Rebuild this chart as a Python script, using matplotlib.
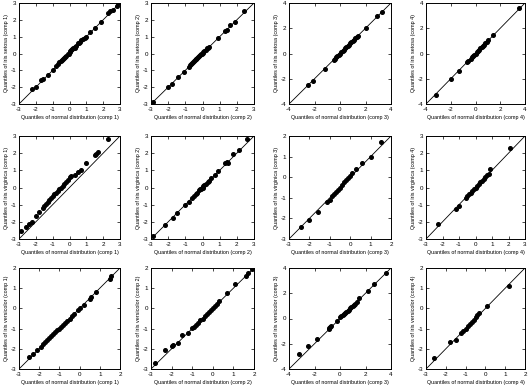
import matplotlib
matplotlib.use("Agg")
import matplotlib.pyplot as plt
import numpy as np

# Q-Q points (x = normal quantile, y = sample quantile)
setosa_comp1_x = [-2.2, -2.0, -1.7, -1.6, -1.3, -1.0, -0.8, -0.7, -0.6, -0.5, -0.45, -0.4, -0.3, -0.25, -0.2,
                  -0.1, -0.05, 0.0, 0.05, 0.1, 0.15, 0.2, 0.3, 0.35, 0.4, 0.5, 0.55, 0.6, 0.7, 0.8,
                  0.9, 1.0, 1.2, 1.5, 1.9, 2.3, 2.4, 2.6, 2.8, 2.9]
setosa_comp1_y = [-2.1, -2.0, -1.6, -1.5, -1.3, -1.0, -0.75, -0.65, -0.5, -0.45, -0.4, -0.35, -0.25, -0.2, -0.15,
                  -0.05, 0.0, 0.1, 0.15, 0.2, 0.25, 0.3, 0.35, 0.4, 0.45, 0.6, 0.65, 0.7, 0.8, 0.85,
                  0.9, 1.0, 1.3, 1.5, 1.9, 2.4, 2.5, 2.6, 2.8, 3.0]
setosa_comp2_x = [-2.9, -2.0, -1.8, -1.4, -1.1, -0.8, -0.7, -0.65, -0.6, -0.55, -0.5, -0.45, -0.4, -0.35, -0.3,
                  -0.25, -0.2, -0.15, -0.1, -0.05, 0.0, 0.05, 0.1, 0.2, 0.25, 0.3, 0.35, 0.9, 1.3, 1.4,
                  1.6, 1.9, 2.4]
setosa_comp2_y = [-2.9, -2.0, -1.8, -1.4, -1.1, -0.8, -0.7, -0.6, -0.55, -0.5, -0.45, -0.4, -0.35, -0.3, -0.25,
                  -0.2, -0.15, -0.1, -0.05, 0.0, 0.05, 0.1, 0.15, 0.2, 0.3, 0.35, 0.4, 0.9, 1.35, 1.4,
                  1.7, 1.9, 2.5]
setosa_comp3_x = [-2.5, -2.1, -1.2, -0.45, -0.4, -0.3, -0.2, -0.1, 0.0, 0.1, 0.2, 0.3, 0.4, 0.5, 0.6,
                  0.7, 0.8, 0.9, 1.0, 1.1, 1.2, 1.3, 1.4, 2.0, 2.9, 3.3]
setosa_comp3_y = [-2.5, -2.2, -1.2, -0.5, -0.4, -0.3, -0.2, -0.1, 0.0, 0.1, 0.2, 0.3, 0.4, 0.5, 0.6,
                  0.7, 0.8, 0.9, 1.0, 1.1, 1.2, 1.3, 1.4, 2.0, 3.0, 3.3]
setosa_comp4_x = [-3.2, -2.0, -1.3, -0.7, -0.6, -0.4, -0.3, -0.2, -0.1, 0.0, 0.1, 0.2, 0.3, 0.4, 0.5,
                  0.6, 0.7, 0.8, 0.9, 1.0, 1.4, 3.5]
setosa_comp4_y = [-3.3, -2.0, -1.35, -0.7, -0.6, -0.4, -0.3, -0.2, -0.1, 0.0, 0.1, 0.2, 0.3, 0.4, 0.5,
                  0.6, 0.7, 0.8, 0.9, 1.05, 1.5, 3.6]

virginica_comp1_x = [-2.9, -2.6, -2.4, -2.2, -2.0, -1.8, -1.6, -1.5, -1.4, -1.3, -1.2, -1.1, -1.0, -0.9, -0.8,
                     -0.7, -0.6, -0.5, -0.4, -0.3, -0.2, -0.1, 0.0, 0.1, 0.3, 0.5, 0.7, 1.0, 1.5, 1.6,
                     1.7, 2.3]
virginica_comp1_y = [-2.55, -2.3, -2.1, -2.0, -1.65, -1.4, -1.2, -1.1, -0.95, -0.85, -0.7, -0.6, -0.5, -0.4, -0.3,
                     -0.2, -0.1, 0.0, 0.1, 0.2, 0.3, 0.45, 0.6, 0.65, 0.75, 0.9, 1.0, 1.45, 1.9, 1.95,
                     2.05, 2.85]
virginica_comp2_x = [-2.9, -2.2, -1.7, -1.5, -1.0, -0.8, -0.6, -0.5, -0.4, -0.3, -0.2, -0.15, -0.1, -0.05, 0.0,
                     0.05, 0.1, 0.2, 0.3, 0.4, 0.5, 0.7, 0.9, 1.3, 1.45, 1.5, 1.8, 2.1, 2.6]
virginica_comp2_y = [-2.8, -2.2, -1.75, -1.5, -1.0, -0.85, -0.6, -0.5, -0.4, -0.3, -0.15, -0.1, -0.1, 0.0, 0.0,
                     0.1, 0.15, 0.2, 0.3, 0.4, 0.55, 0.7, 0.95, 1.4, 1.5, 1.4, 1.95, 2.2, 2.8]
virginica_comp3_x = [-2.4, -2.0, -1.6, -1.15, -1.0, -0.9, -0.8, -0.7, -0.6, -0.5, -0.4, -0.3, -0.2, -0.1, 0.0,
                     0.1, 0.3, 0.6, 1.0, 1.5]
virginica_comp3_y = [-2.4, -2.1, -1.7, -1.2, -1.1, -0.9, -0.8, -0.7, -0.6, -0.5, -0.4, -0.25, -0.15, -0.05, 0.05,
                     0.2, 0.4, 0.7, 1.0, 1.7]
virginica_comp4_x = [-2.3, -1.2, -1.0, -0.6, -0.5, -0.4, -0.3, -0.2, -0.1, 0.0, 0.1, 0.2, 0.3, 0.4, 0.5,
                     0.6, 0.7, 0.8, 0.9, 2.1]
virginica_comp4_y = [-2.15, -1.25, -1.05, -0.6, -0.5, -0.4, -0.3, -0.2, -0.1, 0.0, 0.1, 0.2, 0.3, 0.4, 0.5,
                     0.6, 0.7, 0.8, 1.05, 2.3]

versicolor_comp1_x = [-2.5, -2.3, -2.1, -1.9, -1.8, -1.7, -1.6, -1.5, -1.4, -1.3, -1.2, -1.1, -1.0, -0.9, -0.8,
                      -0.7, -0.6, -0.5, -0.4, -0.3, -0.1, 0.0, 0.2, 0.5, 0.55, 0.8, 1.5, 1.55]
versicolor_comp1_y = [-2.4, -2.25, -2.05, -1.9, -1.75, -1.65, -1.55, -1.45, -1.35, -1.25, -1.15, -1.05, -1.0, -0.9, -0.8,
                      -0.7, -0.6, -0.5, -0.4, -0.3, -0.1, 0.0, 0.15, 0.45, 0.55, 0.8, 1.45, 1.6]
versicolor_comp2_x = [-2.8, -2.3, -2.0, -1.95, -1.7, -1.5, -1.2, -1.0, -0.9, -0.8, -0.7, -0.6, -0.5, -0.4, -0.3,
                      -0.2, -0.1, 0.0, 0.1, 0.2, 0.3, 0.7, 1.1, 1.6, 1.7, 1.9]
versicolor_comp2_y = [-2.7, -2.05, -1.85, -1.8, -1.7, -1.3, -1.2, -0.95, -0.9, -0.8, -0.7, -0.55, -0.5, -0.4, -0.3,
                      -0.2, -0.1, 0.0, 0.1, 0.2, 0.35, 0.75, 1.2, 1.6, 1.75, 1.95]
versicolor_comp3_x = [-3.2, -2.5, -1.8, -0.9, -0.85, -0.8, -0.7, -0.2, 0.0, 0.1, 0.2, 0.3, 0.4, 0.5, 0.6,
                      0.7, 0.8, 0.9, 1.0, 1.1, 1.2, 1.3, 1.5, 2.2, 2.7, 3.6]
versicolor_comp3_y = [-2.8, -2.2, -1.6, -0.85, -0.75, -0.7, -0.6, -0.2, 0.1, 0.2, 0.3, 0.35, 0.45, 0.5, 0.6,
                      0.7, 0.8, 0.9, 1.0, 1.05, 1.15, 1.3, 1.6, 2.2, 2.7, 3.6]
versicolor_comp4_x = [-2.6, -1.8, -1.5, -1.25, -1.15, -1.0, -0.9, -0.8, -0.7, -0.6, -0.5, -0.4, -0.3, 0.1, 1.2]
versicolor_comp4_y = [-2.45, -1.65, -1.55, -1.2, -1.1, -1.0, -0.85, -0.75, -0.65, -0.55, -0.45, -0.35, -0.25, 0.1, 1.1]

species = ["setosa", "virginica", "versicolor"]
limits = [[(-3, 3), (-3, 3), (-4, 4), (-4, 4)],
          [(-3, 3), (-3, 3), (-3, 2), (-3, 3)],
          [(-3, 2), (-3, 2), (-4, 4), (-3, 2)]]

points = [
    [(setosa_comp1_x, setosa_comp1_y), (setosa_comp2_x, setosa_comp2_y),
     (setosa_comp3_x, setosa_comp3_y), (setosa_comp4_x, setosa_comp4_y)],
    [(virginica_comp1_x, virginica_comp1_y), (virginica_comp2_x, virginica_comp2_y),
     (virginica_comp3_x, virginica_comp3_y), (virginica_comp4_x, virginica_comp4_y)],
    [(versicolor_comp1_x, versicolor_comp1_y), (versicolor_comp2_x, versicolor_comp2_y),
     (versicolor_comp3_x, versicolor_comp3_y), (versicolor_comp4_x, versicolor_comp4_y)],
]

plt.rcParams["font.family"] = ["Liberation Sans", "DejaVu Sans"]

W, H = 528, 388
fig = plt.figure(figsize=(W / 100, H / 100), dpi=100)

# axes boxes in pixels
col_left = [19, 151, 289, 426]
col_width = [101, 103, 102, 99]
row_top = [3, 136, 268]
row_height = [101, 103, 101]

for r in range(3):
    for c in range(4):
        ax = fig.add_axes([col_left[c] / W, 1 - (row_top[r] + row_height[r]) / H,
                           col_width[c] / W, row_height[r] / H])
        lo, hi = limits[r][c]
        x, y = points[r][c]
        ax.plot([lo, hi], [lo, hi], color="black", lw=0.6)
        ax.plot(x, y, "o", color="black", ms=2.6, mec="black")
        ax.set_xlim(lo, hi)
        ax.set_ylim(lo, hi)
        step = 2 if hi - lo >= 8 else 1
        ticks = np.arange(lo, hi + 0.5, step)
        ax.set_xticks(ticks)
        ax.set_yticks(ticks)
        ax.set_xticklabels([str(int(t)) for t in ticks])
        ax.set_yticklabels([str(int(t)) for t in ticks])
        ax.tick_params(direction="in", top=True, right=True, length=2, width=0.5,
                       labelsize=4.5, pad=2)
        for s in ax.spines.values():
            s.set_linewidth(0.7)
        ax.set_xlabel("Quantiles of normal distribution (comp %d)" % (c + 1), fontsize=3.9, labelpad=2)
        ax.set_ylabel("Quantiles of iris %s (comp %d)" % (species[r], c + 1), fontsize=3.9, labelpad=1)

fig.savefig("out.png", dpi=100)
